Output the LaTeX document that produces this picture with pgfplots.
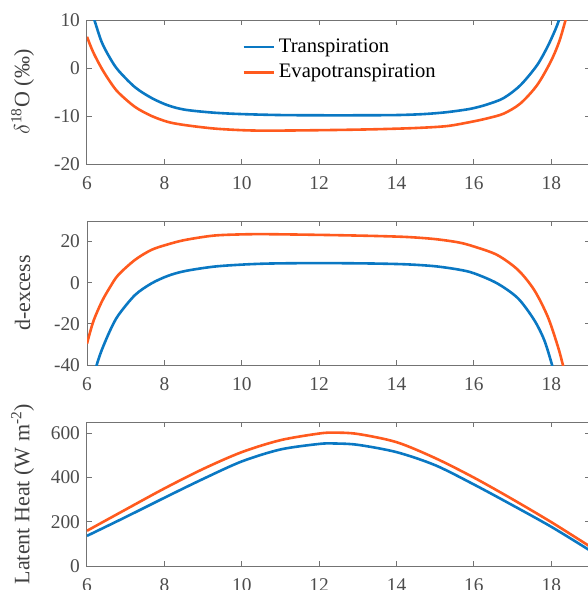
\documentclass[border=0pt]{standalone}
\usepackage{pgfplots}
\pgfplotsset{compat=1.18}
\usepackage{fontspec}
\setmainfont{Liberation Serif}
\definecolor{mblue}{RGB}{10,120,195}
\definecolor{morange}{RGB}{255,90,30}
\definecolor{axgray}{gray}{0.45}

\pgfplotsset{
 myax/.style={
  scale only axis, width=251.5pt, height=72pt,
  xmin=6, xmax=19, xtick={6,8,10,12,14,16,18},
  xticklabels={6,8,10,12,14,16,18},
  tick align=inside, major tick length=2.5pt,
  axis line style={axgray, line width=0.5pt},
  every tick/.style={axgray, line width=0.5pt},
  tick label style={font=\fontsize{9.7}{10}\selectfont, text=black!70},
  xticklabel style={yshift=-3pt},
  label style={font=\fontsize{11}{12}\selectfont, text=black!75},
  ylabel style={at={(axis description cs:-0.128,0.5)}, anchor=center},
  every axis plot/.append style={line width=1.3pt, smooth},
 }
}

\begin{document}
\begin{tikzpicture}
\path[use as bounding box] (0,0) rectangle (294pt,-295pt);
\begin{scope}[overlay]
% Panel 1: delta 18O
\begin{axis}[myax, at={(43.5pt,-10pt)}, anchor=north west,
  ymin=-20, ymax=10, ytick={-20,-10,0,10}, yticklabels={-20,-10,0,10},
  ylabel={$\delta$\textsuperscript{18}O (‰)},
  legend style={draw=none, fill=none, at={(axis description cs:0.296,0.93)}, anchor=north west,
    font=\fontsize{10.3}{12}\selectfont, text=black, legend cell align=left, row sep=0.5pt},
  legend image code/.code={\draw[#1] (0pt,0pt) -- (15pt,0pt);}]
\addplot[mblue] coordinates {
(6.0,14.6) (6.19,10) (6.38,5.4) (6.6,2.0) (6.81,-0.5) (7.24,-4.0) (7.67,-6.25) (8.1,-7.8)
(8.54,-8.7) (9.27,-9.3) (10.0,-9.6) (11.0,-9.8) (12.0,-9.85) (13.0,-9.85) (14.0,-9.8)
(14.7,-9.6) (15.3,-9.2) (15.91,-8.5) (16.34,-7.6) (16.77,-6.25) (17.2,-3.6) (17.63,0.56)
(17.9,4.4) (18.1,7.9) (18.2,10) (18.35,13.5)
};
\addlegendentry{Transpiration}
\addplot[morange] coordinates {
(6.0,6.5) (6.16,3.3) (6.38,-0.1) (6.6,-2.9) (6.81,-5.1) (7.24,-8.1) (7.67,-10.0) (8.1,-11.25)
(8.54,-11.9) (9.27,-12.6) (10.0,-12.95) (10.6,-13.05) (11.5,-13.0) (12.5,-12.9) (13.5,-12.75)
(14.5,-12.5) (15.3,-12.1) (15.91,-11.25) (16.34,-10.5) (16.77,-9.5) (17.2,-7.4) (17.63,-3.6)
(17.98,1.25) (18.2,5.4) (18.37,10) (18.5,13.5)
};
\addlegendentry{Evapotranspiration}
\end{axis}
% Panel 2: d-excess
\begin{axis}[myax, at={(43.5pt,-110.5pt)}, anchor=north west,
  ymin=-40, ymax=30, ytick={-40,-20,0,20}, yticklabels={-40,-20,0,20},
  ylabel={d-excess}]
\addplot[mblue] coordinates {
(6.15,-47) (6.25,-40) (6.38,-32.8) (6.6,-23.1) (6.81,-15.8) (7.24,-6.0) (7.67,-0.3) (8.1,3.4)
(8.54,5.7) (9.27,7.8) (10.0,8.8) (10.66,9.3) (11.5,9.5) (12.5,9.5) (13.5,9.3) (14.3,8.9)
(15.0,8.0) (15.6,6.4) (16.0,4.6) (16.6,-0.3) (17.14,-7.6) (17.56,-18.2) (17.82,-28)
(18.02,-40) (18.1,-46)
};
\addplot[morange] coordinates {
(6.0,-29.6) (6.16,-19.0) (6.38,-9.3) (6.6,-2.0) (6.81,3.8) (7.24,11.1) (7.67,16.0) (8.1,18.7)
(8.54,20.8) (9.27,22.9) (10.0,23.5) (10.6,23.6) (11.5,23.4) (12.5,23.1) (13.5,22.7)
(14.3,22.2) (15.0,21.2) (15.6,19.6) (16.0,17.6) (16.6,13.5) (17.14,6.2) (17.56,-3.6)
(17.91,-16.6) (18.17,-31) (18.3,-40) (18.4,-48)
};
\end{axis}
% Panel 3: latent heat
\begin{axis}[myax, at={(43.5pt,-211pt)}, anchor=north west,
  ymin=0, ymax=650, ytick={0,200,400,600}, yticklabels={0,200,400,600},
  ylabel={Latent Heat (W m\textsuperscript{-2})}]
\addplot[mblue] coordinates {
(6,136) (7,221) (8,308) (9,393) (10,472) (11,526) (12,551) (12.4,553) (13,547) (14,514)
(15,455) (16,368) (17,274) (18,177) (19,70)
};
\addplot[morange] coordinates {
(6,159) (7,255) (8,350) (9,438) (10,514) (11,568) (12,598) (12.4,602) (13,596) (14,559)
(15,487) (16,399) (17,301) (18,198) (19,88)
};
\end{axis}
\end{scope}
\end{tikzpicture}
\end{document}
